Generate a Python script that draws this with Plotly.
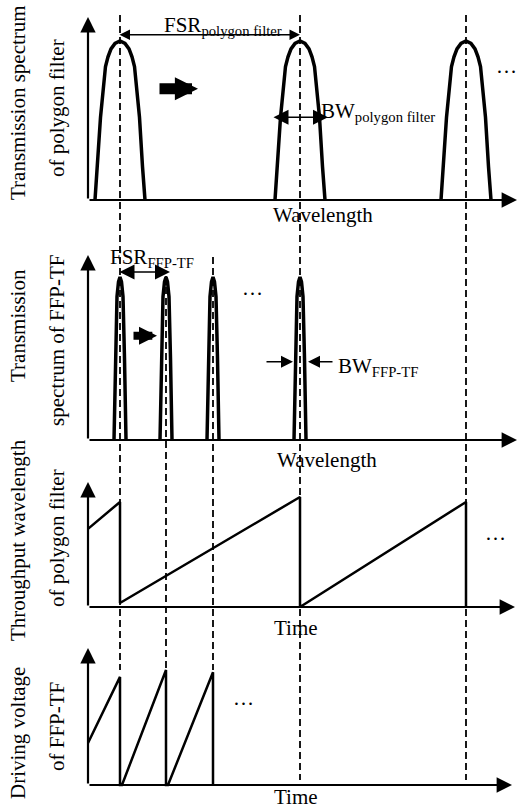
import plotly.graph_objects as go

W, H = 518, 810
FONT = "Liberation Serif"

# ---------------- data (schematic units) ----------------
# x: wavelength / time (arbitrary units), y: normalized level
poly_centers = [3.2, 21.2, 37.8]
poly_offsets = [-2.5, -2.25, -1.95, -1.45, -1.2, -0.9, -0.5, 0.0, 0.5, 0.9, 1.2, 1.45, 1.95, 2.25, 2.5]
poly_levels = [0.0, 0.21, 0.52, 0.84, 0.90, 0.95, 0.985, 1.0, 0.985, 0.95, 0.90, 0.84, 0.52, 0.21, 0.0]

ffp_centers = [3.2, 7.8, 12.5, 21.2]
ffp_offsets = [-0.6, -0.45, -0.3, -0.15, 0.0, 0.15, 0.3, 0.45, 0.6]
ffp_levels = [0.0, 0.5, 0.88, 0.97, 1.0, 0.97, 0.88, 0.5, 0.0]

poly_time = [0, 3.2, 3.2, 21.2, 21.2, 37.8, 37.8]
poly_wavelength = [0.71, 0.955, 0.036, 1.0, 0.0, 0.955, 0.0]

ffp_time = [0, 3.2, 3.2, 3.4, 7.8, 7.8, 8.0, 12.5, 12.5]
ffp_voltage = [0.365, 0.94, 0.0, 0.0, 1.0, 0.0, 0.0, 0.98, 0.0]

bw_poly_level = 0.52
bw_ffp_level = 0.48

# ---------------- layout helpers ----------------
X0_PX, X_SCALE = 88, 10.0
x_range = [-X0_PX / X_SCALE, (W - X0_PX) / X_SCALE]

# top_px, bottom_px, baseline_px, px per unit, y-arrow tip px, x-arrow tip px
panels = [
    (0, 230, 200, 159, 17, 517),
    (230, 470, 440, 163, 255, 517),
    (470, 640, 607, 110, 482, 515),
    (640, 810, 785, 115, 648, 512),
]
suffix = ["", "2", "3", "4"]


def PX(x):
    return x / W


def PY(y):
    return 1 - y / H


fig = go.Figure()
layout = dict(
    width=W, height=H, margin=dict(l=0, r=0, t=0, b=0),
    paper_bgcolor="white", plot_bgcolor="white", showlegend=False,
)
annotations = []
shapes = []

for i, (top, bot, base, unit, ytip, xtip) in enumerate(panels):
    k = suffix[i]
    layout["xaxis" + k] = dict(domain=[0, 1], range=x_range, visible=False,
                               anchor="y" + k, fixedrange=True)
    layout["yaxis" + k] = dict(domain=[PY(bot), PY(top)],
                               range=[(base - bot) / unit, (base - top) / unit],
                               visible=False, anchor="x" + k, fixedrange=True)
    # axes with arrow heads
    for (xh, yh) in [(0, (base - ytip) / unit), ((xtip - X0_PX) / X_SCALE, 0)]:
        annotations.append(dict(
            x=xh, y=yh, ax=0, ay=0, xref="x" + k, yref="y" + k,
            axref="x" + k, ayref="y" + k, text="", showarrow=True,
            arrowhead=2, arrowsize=1.4, arrowwidth=2.2, arrowcolor="black"))


def peaks(centers, offsets, levels):
    xs, ys = [], []
    for c in centers:
        xs += [c + o for o in offsets] + [None]
        ys += list(levels) + [None]
    return xs, ys


# panel 1: polygon filter transmission
xs, ys = peaks(poly_centers, poly_offsets, poly_levels)
fig.add_trace(go.Scatter(x=xs, y=ys, mode="lines", line=dict(color="black", width=3.5),
                         xaxis="x", yaxis="y", hoverinfo="skip"))
# panel 2: FFP-TF transmission
xs, ys = peaks(ffp_centers, ffp_offsets, ffp_levels)
fig.add_trace(go.Scatter(x=xs, y=ys, mode="lines", line=dict(color="black", width=3.5),
                         xaxis="x2", yaxis="y2", hoverinfo="skip"))
# panel 3: throughput wavelength of polygon filter
fig.add_trace(go.Scatter(x=poly_time, y=poly_wavelength, mode="lines",
                         line=dict(color="black", width=2.5),
                         xaxis="x3", yaxis="y3", hoverinfo="skip"))
# panel 4: driving voltage of FFP-TF
fig.add_trace(go.Scatter(x=ffp_time, y=ffp_voltage, mode="lines",
                         line=dict(color="black", width=2.5),
                         xaxis="x4", yaxis="y4", hoverinfo="skip"))

# dashed guide lines (x in data units, vertical extent in pixels)
guides = [
    (poly_centers[0], 15, 670),
    (poly_centers[1], 15, 780),
    (poly_centers[2], 15, 780),
    (ffp_centers[1], 276, 670),
    (ffp_centers[2], 257, 670),
]
for (gx, y0, y1) in guides:
    shapes.append(dict(type="line", xref="x", yref="paper", x0=gx, x1=gx,
                       y0=PY(y0), y1=PY(y1), layer="above",
                       line=dict(color="black", width=1.8, dash="7px,4px")))


def arrow(k, x, y, ax, ay, both=False, size=1.4, width=1.5):
    d = dict(x=x, y=y, ax=ax, ay=ay, xref="x" + k, yref="y" + k,
             axref="x" + k, ayref="y" + k, text="", showarrow=True,
             arrowhead=2, arrowsize=size, arrowwidth=width, arrowcolor="black")
    if both:
        d["arrowside"] = "end+start"
    annotations.append(d)


# FSR polygon
arrow("", poly_centers[1], 1.04, poly_centers[0] - 0.2, 1.04, both=True, size=1.4)
# BW polygon
arrow("", poly_centers[1] + 2.8, bw_poly_level, poly_centers[1] - 2.8, bw_poly_level, both=True, size=2.0)
# movement arrow panel 1
arrow("", 11.0, 0.70, 7.0, 0.70, size=0.42, width=11)
# FSR FFP
arrow("2", ffp_centers[1] + 0.4, 1.03, ffp_centers[0] - 0.2, 1.03, both=True, size=2.0)
# movement arrow panel 2
arrow("2", 6.9, 0.64, 4.4, 0.64, size=0.45, width=8)
# BW FFP (two inward arrows)
arrow("2", ffp_centers[3] - 0.7, bw_ffp_level, ffp_centers[3] - 3.5, bw_ffp_level, size=1.6)
arrow("2", ffp_centers[3] + 0.8, bw_ffp_level, ffp_centers[3] + 3.4, bw_ffp_level, size=1.6)


def text(s, x, y, size=21, xanchor="center", angle=0):
    annotations.append(dict(text=s, x=PX(x), y=PY(y), xref="paper", yref="paper",
                            showarrow=False, xanchor=xanchor, yanchor="middle",
                            textangle=angle, font=dict(family=FONT, size=size, color="black")))


text("FSR<sub>polygon filter</sub>", 162, 26, xanchor="left")
text("BW<sub>polygon filter</sub>", 319, 112, xanchor="left")
text("FSR<sub>FFP-TF</sub>", 108, 258, xanchor="left")
text("BW<sub>FFP-TF</sub>", 336, 367, xanchor="left")
text("Wavelength", 323, 215)
text("Wavelength", 327, 460)
text("Time", 296, 628)
text("Time", 296, 797)
text("…", 506, 66)
text("…", 252, 288)
text("…", 495, 533)
text("…", 243, 698)

text("Transmission spectrum", 18, 103, angle=-90)
text("of polygon filter", 57, 108, angle=-90)
text("Transmission", 18, 326, angle=-90)
text("spectrum of FFP-TF", 57, 340, angle=-90)
text("Throughput wavelength", 18, 540, angle=-90)
text("of polygon filter", 57, 538, angle=-90)
text("Driving voltage", 18, 733, angle=-90)
text("of FFP-TF", 57, 727, angle=-90)

layout["annotations"] = annotations
layout["shapes"] = shapes
fig.update_layout(**layout)

fig.write_html("out.html", config={"displayModeBar": False},
               post_script="document.body.style.margin='0';document.body.style.overflow='hidden';")
